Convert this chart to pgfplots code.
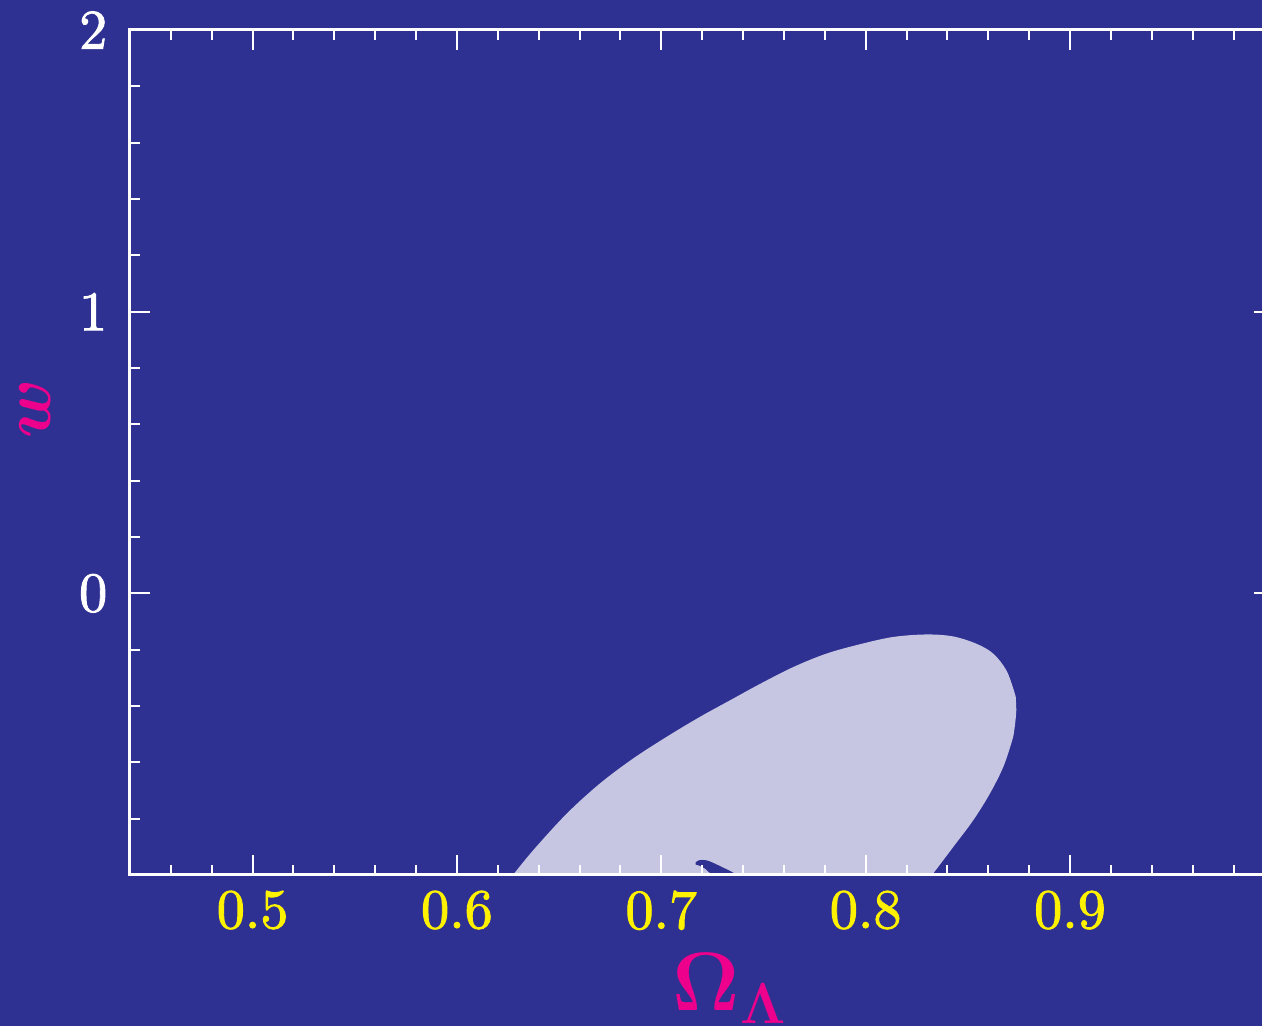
\documentclass[border=0pt]{standalone}
\usepackage{fontspec}
\usepackage{pgfplots}
\pgfplotsset{compat=1.18}
\newfontfamily\tickfont{lmroman10-regular.otf}[FakeBold=1.6]
\definecolor{bgblue}{RGB}{46,49,146}
\definecolor{lightreg}{RGB}{198,197,226}
\definecolor{tyellow}{RGB}{255,242,0}
\definecolor{tmag}{RGB}{236,0,140}
\begin{document}
\begin{tikzpicture}
\fill[bgblue] (-32.5pt,-37.75pt) rectangle (283pt,218.75pt);
\begin{axis}[
  scale only axis, width=286.1pt, height=211.25pt,
  at={(0pt,0pt)}, anchor=south west,
  xmin=0.44, xmax=1.0, ymin=-1, ymax=2,
  axis on top,
  axis line style={white, line width=0.75pt},
  every tick/.style={white, line width=0.5pt},
  tick align=inside,
  major tick length=5pt, minor tick length=2.5pt,
  /pgf/number format/assume math mode=true,
  xtick={0.5,0.6,0.7,0.8,0.9},
  minor xtick={0.44,0.46,0.48,0.52,0.54,0.56,0.58,0.62,0.64,0.66,0.68,0.72,0.74,0.76,0.78,0.82,0.84,0.86,0.88,0.92,0.94,0.96,0.98},
  ytick={0,1,2},
  minor ytick={-0.8,-0.6,-0.4,-0.2,0.2,0.4,0.6,0.8,1.2,1.4,1.6,1.8},
  xticklabel style={tyellow, font=\tickfont\fontsize{14}{14}\selectfont, inner sep=0pt, yshift=-3.75pt},
  yticklabel style={white, font=\tickfont\fontsize{14}{14}\selectfont, inner sep=0pt, xshift=-5.5pt},
]
\addplot[fill=lightreg, draw=none, smooth, tension=0.55] coordinates {
(0.6274,-1.0) (0.6372,-0.913) (0.6536,-0.783) (0.6698,-0.676) (0.6861,-0.587)
(0.7025,-0.510) (0.7188,-0.439) (0.7351,-0.374) (0.7482,-0.322) (0.7645,-0.262)
(0.7808,-0.214) (0.7971,-0.181) (0.8134,-0.155) (0.8298,-0.146) (0.8428,-0.153)
(0.8542,-0.179) (0.8624,-0.214) (0.8689,-0.274) (0.8730,-0.356) (0.8735,-0.380)
(0.8737,-0.416) (0.8735,-0.439) (0.8727,-0.487) (0.8717,-0.522) (0.8673,-0.617)
(0.8607,-0.712) (0.8526,-0.806) (0.8428,-0.901) (0.8325,-1.0)
} -- cycle;
\addplot[fill=bgblue, draw=none, smooth, tension=0.5] coordinates {
(0.7168,-0.956) (0.7183,-0.948) (0.7222,-0.948) (0.7286,-0.968) (0.7365,-1.0)
(0.7257,-1.0) (0.7212,-0.976) (0.7183,-0.966) (0.7168,-0.963)
} -- cycle;
\end{axis}
\node[tmag, rotate=90, font=\fontsize{19}{19}\selectfont\boldmath] at (-23.75pt,116.5pt) {$w$};
\node[tmag, anchor=base west, inner sep=0pt, font=\fontsize{20}{20}\selectfont\boldmath] at (135.5pt,-34pt) {$\Omega_\Lambda$};
\pgfresetboundingbox
\useasboundingbox (-32.5pt,-37.75pt) rectangle (283pt,218.75pt);
\end{tikzpicture}
\end{document}
